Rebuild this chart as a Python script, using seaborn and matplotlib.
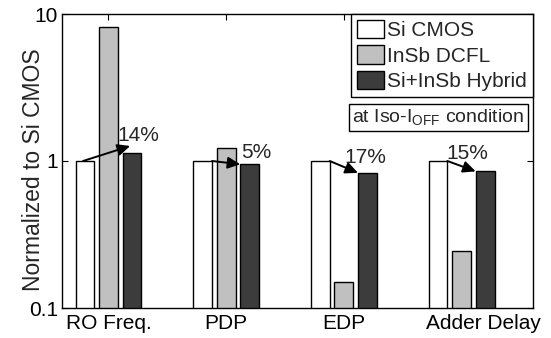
import matplotlib
matplotlib.use("Agg")
import matplotlib.pyplot as plt
import matplotlib.transforms as mtransforms
from matplotlib.ticker import NullLocator
import pandas as pd
import seaborn as sns

# Normalized figures of merit (Si CMOS = 1)
metrics = ["RO Freq.", "PDP", "EDP", "Adder Delay"]
systems = ["Si CMOS", "InSb DCFL", "Si+InSb Hybrid"]
si_cmos = [1.0, 1.0, 1.0, 1.0]
insb_dcfl = [8.1, 1.23, 0.15, 0.245]
hybrid = [1.14, 0.95, 0.83, 0.85]
gains = ["14%", "5%", "17%", "15%"]

colors = ["#ffffff", "#c0c0c0", "#3c3c3c"]

df = pd.DataFrame({
    "metric": metrics * 3,
    "system": [systems[0]] * 4 + [systems[1]] * 4 + [systems[2]] * 4,
    "value": si_cmos + insb_dcfl + hybrid,
})

sns.set_style("ticks")
plt.rcParams["font.family"] = ["Liberation Sans", "DejaVu Sans"]
plt.rcParams["mathtext.fontset"] = "custom"
plt.rcParams["mathtext.rm"] = "Liberation Sans"

FS = 15

fig = plt.figure(figsize=(5.51, 3.38), dpi=100)
ax = fig.add_axes([62 / 551, 1 - 308 / 338, 471 / 551, 294 / 338])

sns.barplot(data=df, x="metric", y="value", hue="system", order=metrics,
            hue_order=systems, palette=colors, edgecolor="black",
            linewidth=1.0, width=0.6, gap=0.2, errorbar=None, ax=ax)

ax.set_yscale("log")
ax.set_ylim(0.1, 10)
ax.set_xlim(-0.395, 3.607)
ax.yaxis.set_minor_locator(NullLocator())
ax.set_yticks([0.1, 1, 10])
ax.set_yticklabels(["0.1", "1", "10"])
ax.tick_params(axis="both", direction="in", length=4, width=0.8,
               top=True, right=True, labelsize=FS, colors="black", pad=3)
ax.tick_params(axis="x", pad=4)
for s in ax.spines.values():
    s.set_visible(True)
    s.set_linewidth(1.0)
    s.set_color("black")

ax.set_xlabel("")
ax.set_ylabel("Normalized to Si CMOS", fontsize=16.5)
ax.yaxis.set_label_coords(-0.037, 0.47)

# shift the last category label slightly to the right
lbl = ax.get_xticklabels()[-1]
lbl.set_transform(lbl.get_transform() +
                  mtransforms.ScaledTranslation(22 / 100, 0, fig.dpi_scale_trans))

# Legend
handles, labels = ax.get_legend_handles_labels()
if ax.get_legend() is not None:
    ax.get_legend().remove()
leg = ax.legend(handles, labels, loc="upper right", bbox_to_anchor=(1.0, 1.0),
                bbox_transform=ax.transAxes, borderaxespad=0, fontsize=FS,
                frameon=True, fancybox=False, edgecolor="black",
                handlelength=1.3, handleheight=0.96, handletextpad=0.12,
                labelspacing=0.24, borderpad=0.3)
leg.get_frame().set_linewidth(1.0)
leg.get_frame().set_alpha(1)

ax.text(0.981, 0.648, r"at Iso-I$_{\mathregular{OFF}}$ condition",
        transform=ax.transAxes, ha="right", va="center", fontsize=14,
        bbox=dict(boxstyle="square,pad=0.18", facecolor="white",
                  edgecolor="black", linewidth=1.0))

# Arrows from the Si CMOS bar to the hybrid bar, with improvement labels
cmos_bars = ax.containers[0]
hyb_bars = ax.containers[2]
start_frac = [0.4, 1.0, 1.0, 1.0]
end_frac = [0.4, 0.0, 0.0, 0.0]
end_lift = [1.11, 1.0, 1.0, 1.0]
label_off = [(6, 17), (7, 12), (-2, 15), (-18, 18)]
for i in range(len(metrics)):
    b0 = cmos_bars[i]
    b2 = hyb_bars[i]
    x0 = b0.get_x() + start_frac[i] * b0.get_width()
    y0 = b0.get_height()
    x1 = b2.get_x() + end_frac[i] * b2.get_width()
    y1 = b2.get_height() * end_lift[i]
    ax.annotate("", xy=(x1, y1), xytext=(x0, y0),
                arrowprops=dict(arrowstyle="-|>,head_length=0.75,head_width=0.35",
                                color="black", lw=1.4, shrinkA=0, shrinkB=0))
    ax.annotate(gains[i], xy=(b2.get_x() + b2.get_width() / 2, b2.get_height()),
                xytext=label_off[i], textcoords="offset pixels",
                ha="center", va="center", fontsize=FS)

fig.savefig("out.png", dpi=100)
